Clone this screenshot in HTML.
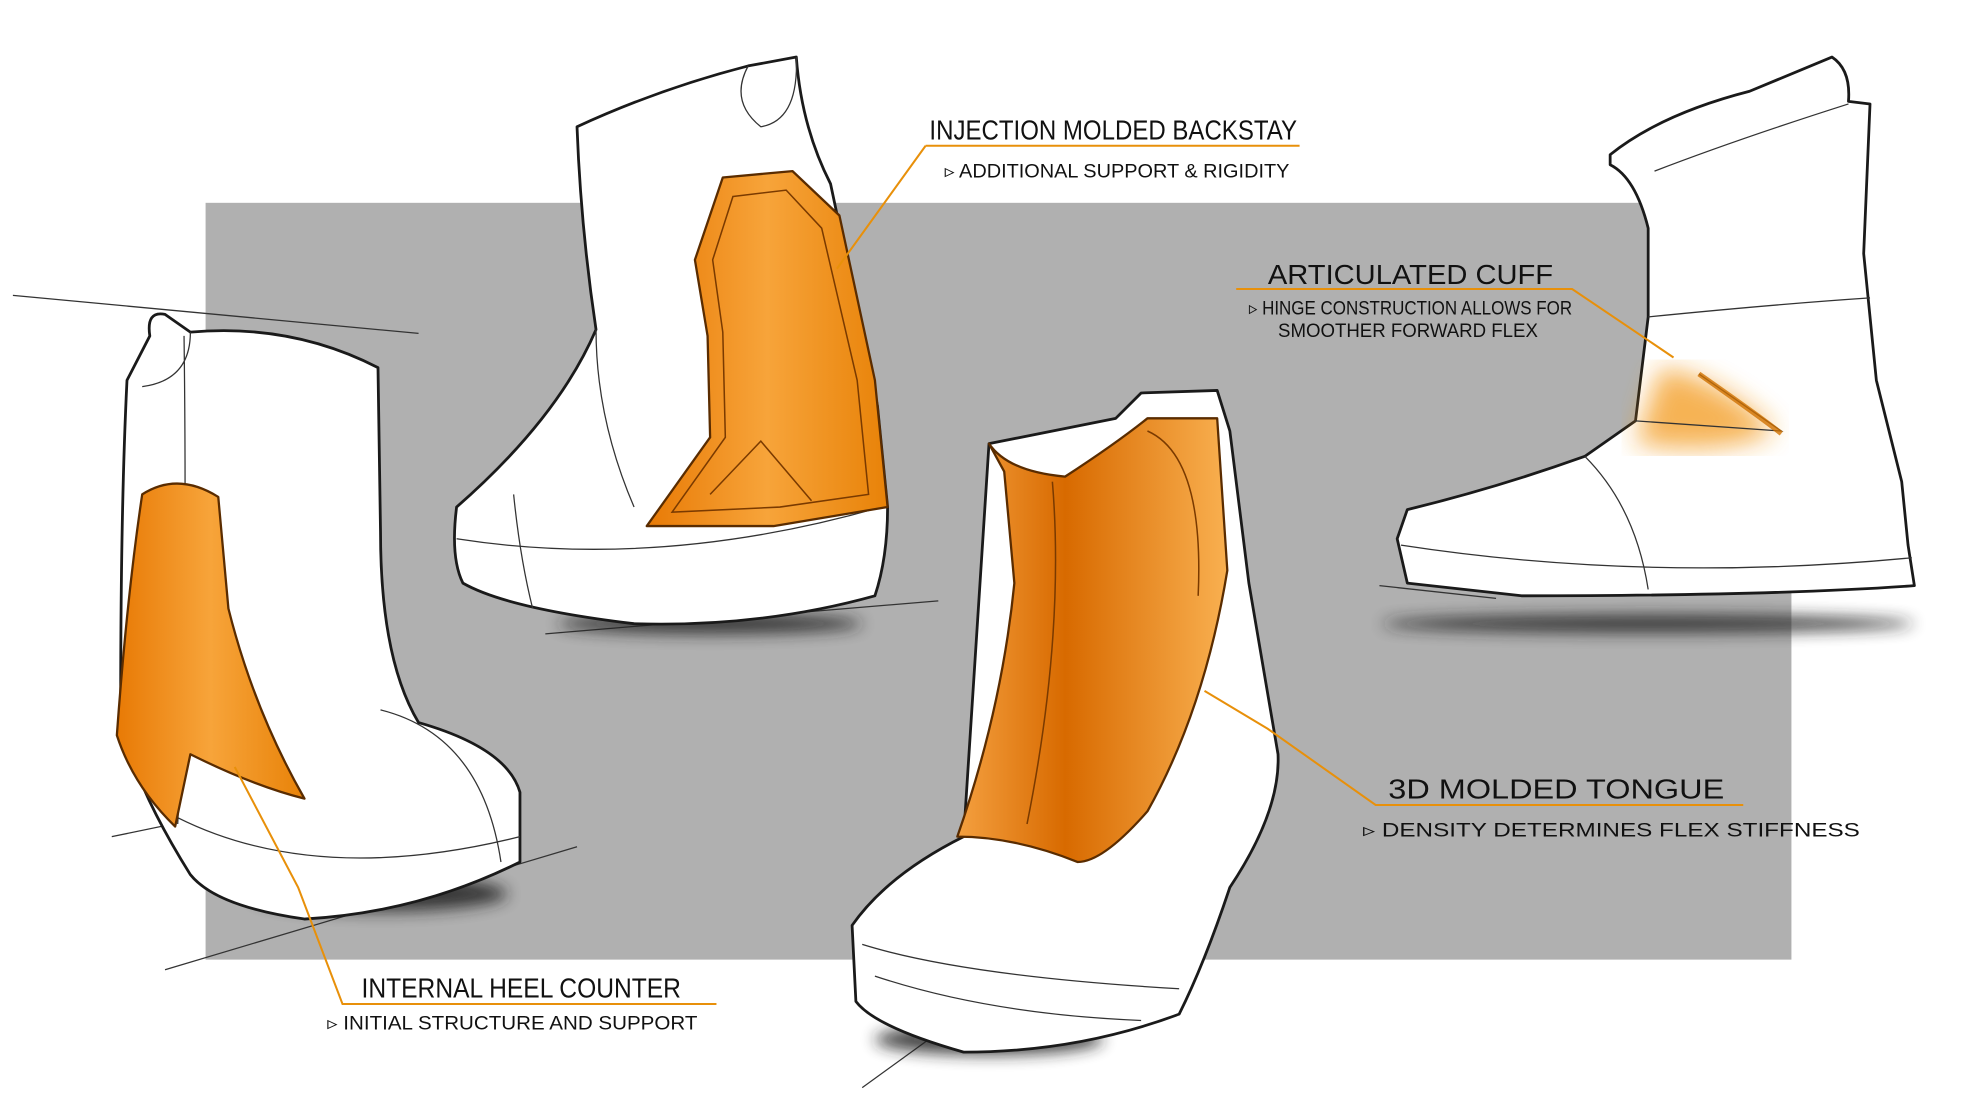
<!DOCTYPE html>
<html><head><meta charset="utf-8"><style>
html,body{margin:0;padding:0;background:#fff;}
svg{display:block}
text{font-family:"Liberation Sans Narrow","Liberation Sans",sans-serif;fill:#111;}
.t{font-size:22px}
.s{font-size:15px}
.o{fill:#fff;stroke:#1a1a1a;stroke-width:2.2;stroke-linejoin:round}
.l{fill:none;stroke:#333;stroke-width:1}
.or{stroke:#5a2c00;stroke-width:1.8;stroke-linejoin:round}
.ld{fill:none;stroke:#e8900a;stroke-width:1.6}
</style></head><body>
<svg width="1978" height="1113" viewBox="0 0 1560 878" xmlns="http://www.w3.org/2000/svg">
<defs>
<linearGradient id="og" x1="0" y1="0" x2="1" y2="0">
<stop offset="0" stop-color="#e87a05"/><stop offset="0.5" stop-color="#f7a43a"/><stop offset="1" stop-color="#e88208"/></linearGradient>
<linearGradient id="og2" x1="0" y1="0" x2="1" y2="0">
<stop offset="0" stop-color="#f4a040"/><stop offset="0.4" stop-color="#d86a00"/><stop offset="1" stop-color="#f9b050"/></linearGradient>
<filter id="bl"><feGaussianBlur stdDeviation="6"/></filter>
<filter id="bl2"><feGaussianBlur stdDeviation="10"/></filter>
</defs>
<rect x="162" y="160" width="1251" height="597" fill="#b0b0b0"/>
<g class="l">
<line x1="10" y1="233" x2="330" y2="263"/><line x1="88" y1="660" x2="320" y2="612"/>
<line x1="130" y1="765" x2="455" y2="668"/><line x1="430" y1="500" x2="740" y2="474"/>
<line x1="680" y1="858" x2="760" y2="800"/><line x1="1088" y1="462" x2="1180" y2="472"/>
</g>
<g fill="#222" filter="url(#bl)" opacity="0.85">
<ellipse cx="560" cy="492" rx="120" ry="8"/><ellipse cx="1300" cy="492" rx="210" ry="7"/>
<ellipse cx="780" cy="820" rx="90" ry="12"/><ellipse cx="300" cy="705" rx="100" ry="14"/>
</g>
<!-- boot 1 -->
<path class="o" d="M118 265 Q115 245 130 248 L150 262 Q230 255 298 290 L300 420 Q300 520 330 570 Q400 590 410 625 L410 680 Q330 720 240 725 Q170 715 150 690 Q100 610 95 560 Q95 400 100 300 Z"/>
<path class="l" d="M150 262 Q150 300 112 305 M145 265 Q148 500 140 650 M300 560 Q380 580 395 680 M140 645 Q250 700 410 660"/>
<path fill="url(#og)" class="or" d="M112 390 Q140 372 172 392 L180 480 Q200 560 240 630 Q200 620 150 595 L138 652 Q105 620 92 580 Q100 470 112 390 Z"/>
<!-- boot 2 -->
<path class="o" d="M455 100 Q520 70 590 52 L628 45 Q632 100 655 145 L692 320 L700 400 Q700 440 690 470 Q600 495 500 492 Q400 480 365 460 Q355 440 360 400 Q440 330 470 260 Q458 180 455 100 Z"/>
<path class="l" d="M590 52 Q575 80 600 100 Q630 95 628 45 M360 425 Q520 450 695 400 M405 390 Q410 440 420 480 M470 260 Q470 330 500 400"/>
<path fill="url(#og)" class="or" d="M570 140 L625 135 L662 170 L690 300 L700 400 L610 415 L510 415 L560 345 L558 265 L548 205 Z"/>
<path fill="none" stroke="#7a3a00" stroke-width="1.2" d="M578 155 L620 150 L648 180 L676 300 L685 390 L615 400 L530 404 L572 345 L570 262 L562 205 Z M560 390 L600 348 L640 395"/>
<!-- boot 3 -->
<path class="o" d="M780 350 Q830 340 880 330 L900 310 L960 308 L970 340 L985 460 L1008 595 Q1010 640 970 700 Q950 760 930 800 Q850 830 760 830 Q690 810 675 790 L672 730 Q700 690 760 660 Z"/>
<path class="l" d="M680 745 Q760 770 930 780 M690 770 Q780 800 900 805"/>
<path fill="url(#og2)" class="or" d="M780 350 Q795 372 840 376 Q880 350 905 330 L960 330 L968 450 Q950 560 905 640 Q870 680 850 680 Q800 660 755 660 Q790 560 800 460 L792 372 Z"/>
<path fill="none" stroke="#7a3a00" stroke-width="1.2" d="M830 380 Q840 500 810 650 M905 340 Q950 360 945 470"/>
<!-- boot 4 -->
<path class="o" d="M1270 122 Q1310 90 1380 72 L1445 45 Q1460 55 1458 80 L1475 82 L1470 200 L1480 300 L1500 380 L1505 430 L1510 462 Q1400 470 1200 470 L1110 460 L1102 425 L1110 402 Q1180 385 1250 360 L1290 332 L1300 250 L1300 180 Q1290 140 1270 130 Z"/>
<path d="M1310 290 Q1360 300 1400 340 Q1360 360 1290 350 Z" fill="#f39a1a" opacity="0.75" filter="url(#bl2)"/>
<path class="l" d="M1305 135 Q1370 110 1458 82 M1300 250 Q1400 240 1475 235 M1290 332 L1405 340 L1340 295 M1105 430 Q1300 460 1508 440 M1250 360 Q1290 400 1300 465" stroke-width="1.3"/>
<path d="M1405 342 Q1390 330 1340 295" stroke="#d07000" stroke-width="4" fill="none" opacity="0.8"/>
<!-- leaders -->
<g class="ld">
<path d="M730 115 L1025 115 M730 115 L660 212"/>
<path d="M975 228 L1240 228 L1320 282"/>
<path d="M1375 635 L1085 635 L1000 575 L950 545"/>
<path d="M565 792 L270 792 L235 700 L185 605"/>
</g>
<text class="t" x="733" y="110" textLength="290" lengthAdjust="spacingAndGlyphs">INJECTION MOLDED BACKSTAY</text>
<text class="s" x="745" y="140" textLength="272" lengthAdjust="spacingAndGlyphs">▹ ADDITIONAL SUPPORT &amp; RIGIDITY</text>
<text class="t" x="1000" y="224" textLength="225" lengthAdjust="spacingAndGlyphs">ARTICULATED CUFF</text>
<text class="s" x="985" y="248" textLength="255" lengthAdjust="spacingAndGlyphs">▹ HINGE CONSTRUCTION ALLOWS FOR</text>
<text class="s" x="1008" y="266" textLength="205" lengthAdjust="spacingAndGlyphs">SMOOTHER FORWARD FLEX</text>
<text class="t" x="1095" y="630" textLength="265" lengthAdjust="spacingAndGlyphs">3D MOLDED TONGUE</text>
<text class="s" x="1075" y="660" textLength="392" lengthAdjust="spacingAndGlyphs">▹ DENSITY DETERMINES FLEX STIFFNESS</text>
<text class="t" x="285" y="787" textLength="252" lengthAdjust="spacingAndGlyphs">INTERNAL HEEL COUNTER</text>
<text class="s" x="258" y="812" textLength="292" lengthAdjust="spacingAndGlyphs">▹ INITIAL STRUCTURE AND SUPPORT</text>
</svg>
</body></html>
